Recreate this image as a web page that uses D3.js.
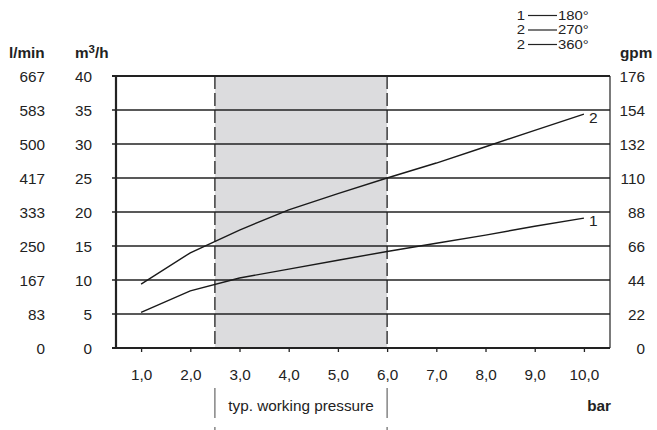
<!DOCTYPE html>
<html>
<head>
<meta charset="utf-8">
<script src="https://cdn.jsdelivr.net/npm/d3@7"></script>
<style>
  body { margin: 0; background: #fff; }
  text { font-family: "Liberation Sans", Arial, sans-serif; fill: #222; }
</style>
</head>
<body>
<svg id="svg"></svg>
<script>
// pressure in bar vs flow in m3/h
const pressure = [1, 2, 3, 4, 5, 6, 7, 8, 9, 10];
const curve1 = [5.25, 8.4, 10.3, 11.6, 12.9, 14.2, 15.4, 16.6, 17.9, 19.1];
const curve2 = [9.4, 14.0, 17.35, 20.3, 22.7, 25.0, 27.2, 29.6, 32.0, 34.4];

const m3hTicks = [0, 5, 10, 15, 20, 25, 30, 35, 40];
const lminLabels = ['0', '83', '167', '250', '333', '417', '500', '583', '667'];
const gpmLabels = ['0', '22', '44', '66', '88', '110', '132', '154', '176'];
const barTicks = [1, 2, 3, 4, 5, 6, 7, 8, 9, 10];
const workingRange = [2.5, 6.0];
const legendRows = [['1', '180°'], ['2', '270°'], ['2', '360°']];

const width = 657;
const height = 430;
const fs = 15.3;

const svg = d3.select('#svg')
  .attr('width', width)
  .attr('height', height);

const xScale = d3.scaleLinear()
  .domain([0.49, 10.53])
  .range([116, 610]);

const yScale = d3.scaleLinear()
  .domain([0, 40])
  .range([348, 76]);

// shaded working range
svg.append('rect')
  .attr('x', xScale(workingRange[0]))
  .attr('y', yScale(40))
  .attr('width', xScale(workingRange[1]) - xScale(workingRange[0]))
  .attr('height', yScale(0) - yScale(40))
  .attr('fill', '#dcdcde');

// dashed boundaries of the working range
workingRange.forEach(v => {
  svg.append('line')
    .attr('x1', xScale(v)).attr('x2', xScale(v))
    .attr('y1', yScale(40)).attr('y2', yScale(0))
    .attr('stroke', '#222')
    .attr('stroke-width', 1.3)
    .attr('stroke-dasharray', '13,4');
  svg.append('line')
    .attr('x1', xScale(v)).attr('x2', xScale(v))
    .attr('y1', 388).attr('y2', 418)
    .attr('stroke', '#666')
    .attr('stroke-width', 1.2);
  svg.append('line')
    .attr('x1', xScale(v)).attr('x2', xScale(v))
    .attr('y1', 427).attr('y2', 430)
    .attr('stroke', '#666')
    .attr('stroke-width', 1.2);
});

// horizontal grid lines
svg.append('g')
  .selectAll('line')
  .data(m3hTicks.filter(d => d > 0 && d < 40))
  .join('line')
  .attr('x1', 112)
  .attr('x2', 610)
  .attr('y1', d => yScale(d))
  .attr('y2', d => yScale(d))
  .attr('stroke', '#222')
  .attr('stroke-width', 1.4);

// top and bottom frame
svg.append('line')
  .attr('x1', 112).attr('x2', 610)
  .attr('y1', yScale(40)).attr('y2', yScale(40))
  .attr('stroke', '#222').attr('stroke-width', 2);
svg.append('line')
  .attr('x1', 112).attr('x2', 610)
  .attr('y1', yScale(0)).attr('y2', yScale(0))
  .attr('stroke', '#222').attr('stroke-width', 2);
// left axis line
svg.append('line')
  .attr('x1', 116).attr('x2', 116)
  .attr('y1', yScale(40) - 1).attr('y2', yScale(0) + 1)
  .attr('stroke', '#222').attr('stroke-width', 2.2);
// right axis line
svg.append('line')
  .attr('x1', 610).attr('x2', 610)
  .attr('y1', yScale(40)).attr('y2', yScale(0))
  .attr('stroke', '#222').attr('stroke-width', 1.2);

// bottom axis with ticks pointing down
const xAxis = d3.axisBottom(xScale)
  .tickValues(barTicks)
  .tickSize(4)
  .tickPadding(17)
  .tickFormat(d => d.toFixed(1).replace('.', ','));

const xg = svg.append('g')
  .attr('transform', `translate(0,${yScale(0)})`)
  .call(xAxis);
xg.select('.domain').remove();
xg.selectAll('.tick line').attr('stroke', '#222').attr('stroke-width', 1.3);
xg.selectAll('.tick text')
  .attr('font-size', fs)
  .attr('font-family', '"Liberation Sans", Arial, sans-serif')
  .attr('fill', '#222');

// left tick labels: m3/h and l/min
svg.append('g')
  .selectAll('text')
  .data(m3hTicks)
  .join('text')
  .attr('x', 92)
  .attr('y', d => yScale(d) + 5.5)
  .attr('text-anchor', 'end')
  .attr('font-size', fs)
  .text(d => d);

svg.append('g')
  .selectAll('text')
  .data(m3hTicks)
  .join('text')
  .attr('x', 45)
  .attr('y', d => yScale(d) + 5.5)
  .attr('text-anchor', 'end')
  .attr('font-size', fs)
  .text((d, i) => lminLabels[i]);

// right tick labels: gpm
svg.append('g')
  .selectAll('text')
  .data(m3hTicks)
  .join('text')
  .attr('x', 645)
  .attr('y', d => yScale(d) + 5.5)
  .attr('text-anchor', 'end')
  .attr('font-size', fs)
  .text((d, i) => gpmLabels[i]);

// unit titles
svg.append('text')
  .attr('x', 9).attr('y', 57.5)
  .attr('font-size', fs).attr('font-weight', 'bold')
  .text('l/min');

const m3 = svg.append('text')
  .attr('x', 75).attr('y', 57.5)
  .attr('font-size', fs).attr('font-weight', 'bold');
m3.append('tspan').text('m');
m3.append('tspan').attr('font-size', 11.5).attr('dy', -5).text('3');
m3.append('tspan').attr('dy', 5).text('/h');

svg.append('text')
  .attr('x', 620).attr('y', 57.5)
  .attr('font-size', fs).attr('font-weight', 'bold')
  .text('gpm');

svg.append('text')
  .attr('x', 611).attr('y', 411)
  .attr('text-anchor', 'end')
  .attr('font-size', fs).attr('font-weight', 'bold')
  .text('bar');

svg.append('text')
  .attr('x', (xScale(workingRange[0]) + xScale(workingRange[1])) / 2)
  .attr('y', 411)
  .attr('text-anchor', 'middle')
  .attr('font-size', fs)
  .text('typ. working pressure');

// curves
const line = d3.line()
  .x((d, i) => xScale(pressure[i]))
  .y(d => yScale(d));

[curve1, curve2].forEach(series => {
  svg.append('path')
    .attr('d', line(series))
    .attr('fill', 'none')
    .attr('stroke', '#1a1a1a')
    .attr('stroke-width', 1.4);
});

svg.append('text')
  .attr('x', xScale(10) + 5).attr('y', yScale(curve1[9]) + 8)
  .attr('font-size', 15.5)
  .text('1');
svg.append('text')
  .attr('x', xScale(10) + 5).attr('y', yScale(curve2[9]) + 9)
  .attr('font-size', 15.5)
  .text('2');

// legend top right (rows packed tightly, so a slightly smaller font)
const lfs = 12.4;
const legend = svg.append('g');
legendRows.forEach((r, i) => {
  const y = 20 + i * 14.5;
  legend.append('text')
    .attr('x', 525).attr('y', y)
    .attr('text-anchor', 'end')
    .attr('font-size', lfs)
    .attr('transform', `translate(525,${y}) scale(1.2,1) translate(-525,${-y})`)
    .text(r[0]);
  legend.append('line')
    .attr('x1', 528).attr('x2', 557)
    .attr('y1', y - 4.5).attr('y2', y - 4.5)
    .attr('stroke', '#222').attr('stroke-width', 1.2);
  legend.append('text')
    .attr('x', 558).attr('y', y)
    .attr('font-size', lfs)
    .attr('transform', `translate(558,${y}) scale(1.2,1) translate(-558,${-y})`)
    .text(r[1]);
});
</script>
</body>
</html>
